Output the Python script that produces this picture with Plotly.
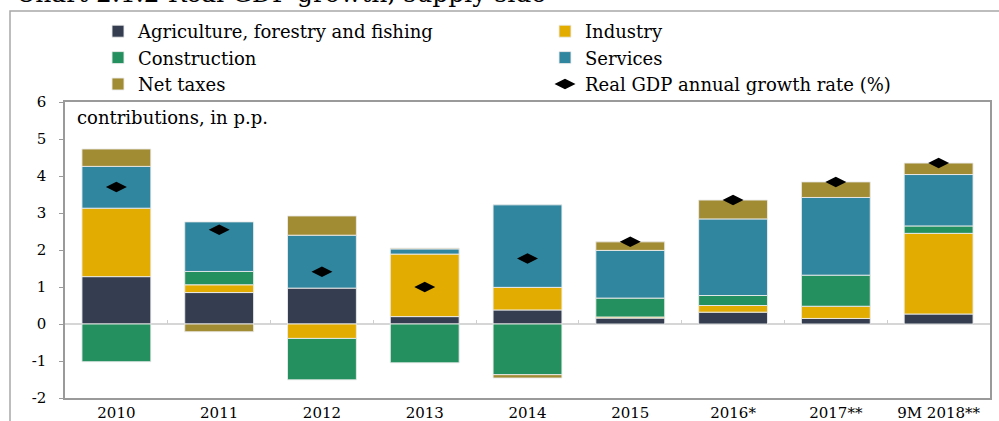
import plotly.graph_objects as go

categories = ["2010", "2011", "2012", "2013", "2014", "2015", "2016*", "2017**", "9M 2018**"]
agriculture = [1.28, 0.85, 0.97, 0.20, 0.38, 0.16, 0.32, 0.15, 0.27]
industry = [1.85, 0.21, -0.39, 1.69, 0.61, 0.03, 0.18, 0.33, 2.18]
construction = [-1.02, 0.36, -1.12, -1.05, -1.37, 0.51, 0.27, 0.84, 0.20]
services = [1.13, 1.34, 1.43, 0.14, 2.23, 1.29, 2.07, 2.10, 1.39]
net_taxes = [0.47, -0.21, 0.52, 0.02, -0.09, 0.23, 0.51, 0.42, 0.31]
gdp_growth = [3.70, 2.55, 1.41, 1.00, 1.77, 2.22, 3.35, 3.84, 4.35]

series_names = ["Agriculture, forestry and fishing", "Industry", "Construction", "Services", "Net taxes"]
series_values = [agriculture, industry, construction, services, net_taxes]
series_colors = ["#343E50", "#E2AD00", "#25905F", "#31869F", "#A18B33"]
series_legends = ["legend", "legend2", "legend", "legend2", "legend"]
gdp_name = "Real GDP annual growth rate (%)"
y_ticks = [6, 5, 4, 3, 2, 1, 0, -1, -2]
y_ticktext = ["6", "5", "4", "3", "2", "1", "0", "-1", "-2"]

FONT = "DejaVu Serif"
W, H = 999, 421
ML, MR, MT, MB = 65, 9, 102, 23
PW, PH = W - ML - MR, H - MT - MB

fig = go.Figure()
for name, vals, col, lg in zip(series_names, series_values, series_colors, series_legends):
    fig.add_trace(go.Bar(
        x=categories, y=vals, name=name, legend=lg,
        marker=dict(color=col, line=dict(color="rgba(235,235,235,0.9)", width=1)),
    ))

fig.add_trace(go.Scatter(
    x=categories, y=gdp_growth, name=gdp_name, mode="markers", legend="legend2",
    marker=dict(symbol="diamond-wide", size=15, color="black"),
    xaxis="x2",
))

ymin, ymax = -2, 6
zero_pos = (0 - ymin) / (ymax - ymin)

legend_common = dict(orientation="v", xanchor="left", yanchor="top",
                     font=dict(family=FONT, size=18, color="black"),
                     traceorder="normal", bgcolor="rgba(0,0,0,0)",
                     tracegroupgap=0, borderwidth=0)

fig.update_layout(
    width=W, height=H,
    margin=dict(l=ML, r=MR, t=MT, b=MB, autoexpand=False),
    paper_bgcolor="white", plot_bgcolor="white",
    barmode="relative", bargap=0.33,
    font=dict(family=FONT, size=15, color="black"),
    xaxis=dict(type="category", categoryorder="array", categoryarray=categories,
               range=[-0.5, len(categories) - 0.5],
               showline=True, mirror=True, linecolor="#9a9a9a", linewidth=1.5,
               ticks="", showgrid=False, zeroline=False,
               tickfont=dict(family=FONT, size=15)),
    xaxis2=dict(type="category", categoryorder="array", categoryarray=categories,
                range=[-0.5, len(categories) - 0.5], overlaying="x",
                anchor="free", position=zero_pos, side="bottom",
                tickson="boundaries", ticks="inside", ticklen=4, tickcolor="#cfcfcf",
                showticklabels=False, showline=False, showgrid=False, zeroline=False),
    yaxis=dict(range=[ymin, ymax], tickmode="array", tickvals=y_ticks, ticktext=y_ticktext,
               showgrid=False, zeroline=True, zerolinecolor="#d6d6d6", zerolinewidth=1.5,
               showline=True, mirror=True, linecolor="#9a9a9a", linewidth=1.5,
               ticks="outside", ticklen=4, tickcolor="#9a9a9a", ticklabelstandoff=10,
               tickfont=dict(family=FONT, size=15)),
    legend=dict(x=(98 - ML) / PW, y=1 + (MT - 13) / PH, **legend_common),
    legend2=dict(x=(545 - ML) / PW, y=1 + (MT - 13) / PH, **legend_common),
    showlegend=True,
    annotations=[
        dict(text="Chart 2.1.2 Real GDP growth, supply side", xref="paper", yref="paper",
             x=(14 - ML) / PW, y=1 + (MT + 7) / PH, xanchor="left", yanchor="middle",
             showarrow=False, font=dict(family=FONT, size=25, color="black")),
        dict(text="contributions, in p.p.", xref="paper", yref="paper",
             x=(75 - ML) / PW, y=1 - (117 - MT) / PH, xanchor="left", yanchor="middle",
             showarrow=False, font=dict(family=FONT, size=18, color="black")),
    ],
    shapes=[dict(type="rect", xref="paper", yref="paper", layer="below",
                 x0=(10 - ML) / PW, x1=1.2, y0=-0.5, y1=1 + (MT - 11) / PH,
                 line=dict(color="#a8a8a8", width=1.5), fillcolor="rgba(0,0,0,0)")],
)

fig.write_html("out.html", config={"displayModeBar": False},
               post_script="document.body.style.margin='0';")
